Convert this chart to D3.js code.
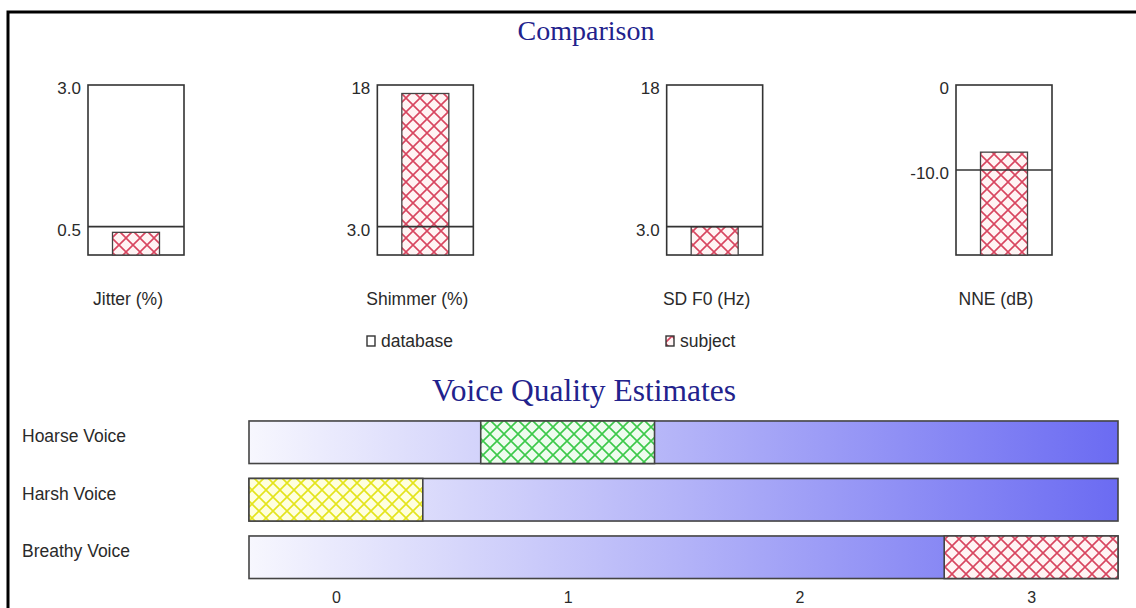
<!DOCTYPE html>
<html>
<head>
<meta charset="utf-8">
<script src="https://cdn.jsdelivr.net/npm/d3@7"></script>
<style>
  body { margin: 0; background: #fff; }
  svg { display: block; }
  .lbl { font-family: "Liberation Sans", Arial, sans-serif; fill: #2a2a2a; }
  .ttl { font-family: "Liberation Serif", "Times New Roman", serif; fill: #22228c; }
</style>
</head>
<body>
<div id="chart"></div>
<script>
// comparison panel data
let metrics = ["Jitter (%)", "Shimmer (%)", "SD F0 (Hz)", "NNE (dB)"];
let axisMin = [0, 0, 0, -20];
let axisMax = [3.0, 18, 18, 0];
let databaseNorm = [0.5, 3.0, 3.0, -10.0];
let subjectValues = [0.4, 17.1, 3.0, -7.9];
let maxLabels = ["3.0", "18", "18", "0"];
let normLabels = ["0.5", "3.0", "3.0", "-10.0"];

// voice quality panel data
let voiceCategories = ["Hoarse Voice", "Harsh Voice", "Breathy Voice"];
let voiceEstimates = [1, 0, 3];
let voiceColors = ["green", "yellow", "red"];
let estimateTicks = [0, 1, 2, 3];

let width = 1136, height = 608;

let svg = d3.select("#chart").append("svg")
    .attr("width", width)
    .attr("height", height);

let defs = svg.append("defs");

// cross hatch fills
let hatch = {
    red:    {bg: "#fff4f4", line: "#d84660"},
    green:  {bg: "#effcef", line: "#3cc94a"},
    yellow: {bg: "#ffffde", line: "#e4e41c"}
};
Object.keys(hatch).forEach(function(k) {
    let p = defs.append("pattern")
        .attr("id", "hatch-" + k)
        .attr("patternUnits", "userSpaceOnUse")
        .attr("width", 14)
        .attr("height", 14);
    p.append("rect").attr("width", 14).attr("height", 14).attr("fill", hatch[k].bg);
    p.append("path")
        .attr("d", "M0,0L14,14M14,0L0,14")
        .attr("stroke", hatch[k].line)
        .attr("stroke-width", 1.6);
});

// frame (only top & left visible)
svg.append("path")
    .attr("d", "M8," + height + "V12H" + width)
    .attr("fill", "none")
    .attr("stroke", "#000")
    .attr("stroke-width", 3);

/* ---------- Comparison ---------- */
svg.append("text").attr("class", "ttl")
    .attr("x", 586).attr("y", 40)
    .attr("text-anchor", "middle")
    .style("font-size", "28px")
    .text("Comparison");

let colX = d3.scalePoint()
    .domain(metrics)
    .range([136, 1004]);

let boxW = 96, barW = 47;
let boxTop = 85, boxBottom = 255;

metrics.forEach(function(m, i) {
    let y = d3.scaleLinear()
        .domain([axisMin[i], axisMax[i]])
        .range([boxBottom, boxTop]);
    let cx = colX(m);
    let g = svg.append("g");

    g.append("rect")
        .attr("x", cx - boxW / 2).attr("y", y(axisMax[i]))
        .attr("width", boxW).attr("height", y(axisMin[i]) - y(axisMax[i]))
        .attr("fill", "#fff").attr("stroke", "#333").attr("stroke-width", 1.6);

    g.append("rect")
        .attr("x", cx - barW / 2).attr("y", y(subjectValues[i]))
        .attr("width", barW).attr("height", y(axisMin[i]) - y(subjectValues[i]))
        .attr("fill", "url(#hatch-red)").attr("stroke", "#444").attr("stroke-width", 1.3);

    g.append("line")
        .attr("x1", cx - boxW / 2).attr("x2", cx + boxW / 2)
        .attr("y1", y(databaseNorm[i])).attr("y2", y(databaseNorm[i]))
        .attr("stroke", "#333").attr("stroke-width", 1.6);

    let yAxis = d3.axisLeft(y)
        .tickValues([databaseNorm[i], axisMax[i]])
        .tickSize(0)
        .tickPadding(7)
        .tickFormat(function(d, j) { return j === 0 ? normLabels[i] : maxLabels[i]; });
    let ag = g.append("g")
        .attr("transform", "translate(" + (cx - boxW / 2) + ",3)")
        .call(yAxis);
    ag.select(".domain").remove();
    ag.selectAll("text").attr("class", "lbl").style("font-size", "17px")
        .attr("font-family", null).attr("fill", null);

    g.append("text").attr("class", "lbl")
        .attr("x", cx - 8).attr("y", 305)
        .attr("text-anchor", "middle")
        .style("font-size", "17.5px")
        .text(m);
});

// legend
let legend = [
    {label: "database", x: 367, fill: "#fff"},
    {label: "subject", x: 666, fill: "url(#hatch-red)"}
];
legend.forEach(function(d) {
    svg.append("rect")
        .attr("x", d.x).attr("y", 336)
        .attr("width", 8).attr("height", 10)
        .attr("fill", d.fill).attr("stroke", "#333").attr("stroke-width", 1.4);
    svg.append("text").attr("class", "lbl")
        .attr("x", d.x + 14).attr("y", 347)
        .style("font-size", "17.5px")
        .text(d.label);
});

/* ---------- Voice Quality Estimates ---------- */
svg.append("text").attr("class", "ttl")
    .attr("x", 584).attr("y", 401)
    .attr("text-anchor", "middle")
    .style("font-size", "31.5px")
    .text("Voice Quality Estimates");

let x = d3.scaleLinear()
    .domain([-0.375, 3.375])
    .range([249, 1118]);

let yBand = d3.scaleBand()
    .domain(voiceCategories)
    .range([413.5, 586])
    .paddingInner(0.26)
    .paddingOuter(0.13);

let grad = defs.append("linearGradient")
    .attr("id", "barGrad")
    .attr("gradientUnits", "userSpaceOnUse")
    .attr("x1", x.range()[0]).attr("x2", x.range()[1])
    .attr("y1", 0).attr("y2", 0);
grad.append("stop").attr("offset", "0%").attr("stop-color", "#f7f7fe");
grad.append("stop").attr("offset", "50%").attr("stop-color", "#b3b3f8");
grad.append("stop").attr("offset", "100%").attr("stop-color", "#6b6bf2");

let rows = svg.selectAll(".vrow")
    .data(voiceCategories)
    .enter().append("g")
    .attr("class", "vrow");

rows.append("rect")
    .attr("x", x.range()[0])
    .attr("y", function(d) { return yBand(d); })
    .attr("width", x.range()[1] - x.range()[0])
    .attr("height", yBand.bandwidth())
    .attr("fill", "url(#barGrad)")
    .attr("stroke", "#444").attr("stroke-width", 1.6);

rows.append("rect")
    .attr("x", function(d, i) { return x(voiceEstimates[i] - 0.375); })
    .attr("y", function(d) { return yBand(d); })
    .attr("width", x(0.375) - x(-0.375))
    .attr("height", yBand.bandwidth())
    .attr("fill", function(d, i) { return "url(#hatch-" + voiceColors[i] + ")"; })
    .attr("stroke", "#444").attr("stroke-width", 1.6);

rows.append("text").attr("class", "lbl")
    .attr("x", 22)
    .attr("y", function(d) { return yBand(d) + yBand.bandwidth() / 2 - 6; })
    .attr("dy", "0.35em")
    .style("font-size", "17.5px")
    .text(function(d) { return d; });

let xAxis = d3.axisBottom(x)
    .tickValues(estimateTicks)
    .tickSize(0)
    .tickPadding(4)
    .tickFormat(d3.format("d"));
let xg = svg.append("g")
    .attr("transform", "translate(0,588)")
    .call(xAxis);
xg.select(".domain").remove();
xg.selectAll("text").attr("class", "lbl").style("font-size", "16px")
    .attr("font-family", null).attr("fill", null);
</script>
</body>
</html>
